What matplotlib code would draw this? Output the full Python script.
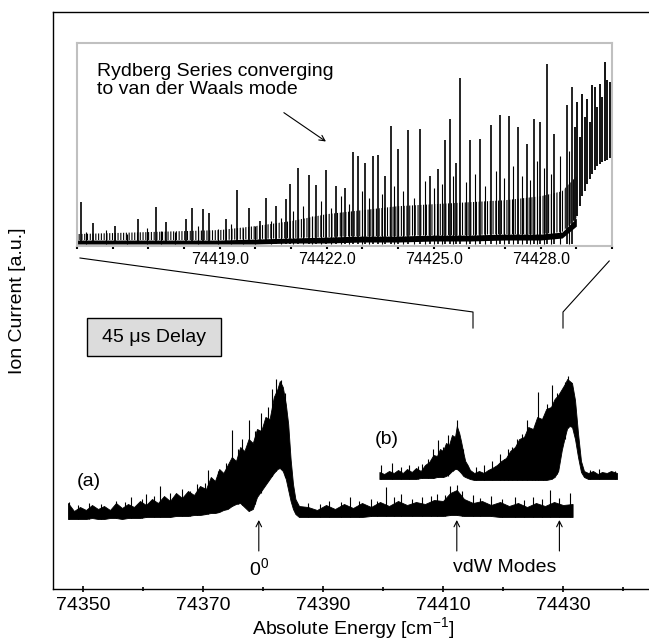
import numpy as np
import matplotlib
matplotlib.use("Agg")
from matplotlib import pyplot as plt
from matplotlib.patches import Rectangle
from matplotlib.ticker import MultipleLocator, FormatStrFormatter

plt.rcParams['font.family'] = ['Liberation Sans', 'DejaVu Sans']
plt.rcParams['mathtext.fontset'] = 'custom'
plt.rcParams['mathtext.rm'] = 'Liberation Sans'
plt.rcParams['mathtext.it'] = 'Liberation Sans'
plt.rcParams['hatch.linewidth'] = 0.8

# ---- trace (a): full scan, envelope of the dense spectrum (height above axis)
a_x = [74347.5, 74348.5, 74349.5, 74350.5, 74351.5, 74352.5, 74353.5, 74354.5,
       74355.5, 74356.5, 74357.5, 74358.5, 74359.5, 74360.5, 74361.5, 74362.5,
       74363.5, 74364.5, 74365.5, 74366.5, 74367.5, 74368.5, 74369.5, 74370.5,
       74371.3, 74372.0, 74372.7, 74373.4, 74374.1, 74374.8, 74375.5, 74376.2,
       74376.9, 74377.6, 74378.3, 74379.0, 74379.7, 74380.4, 74381.1, 74381.8,
       74382.4, 74382.8, 74383.3, 74383.8, 74384.2, 74384.6, 74385.0, 74385.4,
       74386.0, 74387.5, 74389.0, 74390.5, 74392.0, 74393.5, 74395.0, 74396.5,
       74398.0, 74399.5, 74401.0, 74402.5, 74404.0, 74405.5, 74407.0, 74408.5,
       74410.0, 74411.2, 74412.3, 74413.5, 74415.0, 74416.5, 74418.0, 74419.5,
       74421.0, 74422.5, 74424.0, 74425.5, 74427.0, 74428.5, 74430.0, 74431.6]
a_low = [70, 70, 70, 70, 71, 70, 70, 71, 71, 70, 71, 71, 71, 72, 72, 72,
         72, 72, 73, 73, 73, 74, 74, 75, 76, 76, 77, 79, 80, 83, 85, 86,
         82, 78, 80, 92, 98, 104, 110, 116, 120, 121, 118, 110, 99, 88, 80, 75,
         72, 72, 72, 72, 72, 72, 72, 72, 73, 73, 73, 73, 73, 73, 73, 73,
         73, 74, 74, 73, 73, 73, 73, 72, 72, 72, 72, 72, 72, 72, 72, 72]
a_high = [86, 78, 82, 79, 84, 80, 83, 79, 86, 81, 85, 82, 88, 84, 90, 86,
          93, 88, 96, 91, 98, 94, 103, 100, 112, 108, 120, 116, 124, 132, 128, 142,
          138, 150, 146, 160, 158, 172, 170, 192, 200, 208, 202, 185, 165, 130, 105, 90,
          83, 82, 79, 84, 80, 85, 81, 86, 82, 87, 83, 88, 84, 87, 85, 89,
          88, 96, 99, 90, 86, 88, 84, 87, 83, 86, 82, 86, 83, 87, 84, 85]
a_spike_x = [74347.6, 74349.2, 74351.0, 74353.0, 74355.5, 74357.0, 74358.0, 74359.8,
             74360.5, 74361.8, 74362.8, 74364.5, 74366.5, 74367.8, 74369.0, 74370.3,
             74370.8, 74372.5, 74373.8, 74374.9, 74375.8, 74376.5, 74377.6, 74378.6,
             74379.6, 74380.8, 74381.5, 74382.2, 74383.0, 74383.6, 74387.5, 74389.5,
             74391.0, 74393.0, 74394.5, 74396.0, 74398.0, 74399.0, 74400.5, 74401.8,
             74403.0, 74404.8, 74406.5, 74408.0, 74409.0, 74410.3, 74411.2, 74412.3,
             74413.2, 74415.0, 74416.2, 74418.0, 74419.8, 74422.0, 74423.5, 74425.0,
             74426.5, 74427.8, 74429.3, 74431.2]
a_spike_base = [70, 70, 70, 70, 71, 71, 71, 71, 72, 72, 72, 72, 73, 73, 74, 75,
                75, 77, 80, 83, 85, 84, 78, 85, 96, 108, 113, 118, 120, 112, 72, 72,
                72, 72, 72, 72, 73, 73, 73, 73, 73, 73, 73, 73, 73, 73, 74, 74,
                73, 73, 73, 73, 72, 72, 72, 72, 72, 72, 72, 72]
a_spike_h = [87, 84, 86, 85, 88, 87, 92, 90, 95, 93, 103, 96, 100, 98, 105, 106,
             119, 118, 126, 159, 140, 150, 169, 158, 176, 182, 200, 210, 209, 196, 86, 85,
             88, 87, 92, 88, 90, 88, 102, 92, 95, 90, 92, 93, 95, 94, 103, 104,
             98, 94, 91, 93, 90, 92, 89, 92, 90, 99, 91, 96]

# ---- trace (b): vdW mode region, offset upwards
b_x = [74399.4, 74400.2, 74401.0, 74401.8, 74402.5, 74403.3, 74404.0, 74404.8,
       74405.5, 74406.3, 74407.0, 74407.7, 74408.4, 74409.0, 74409.5, 74410.0,
       74410.5, 74411.0, 74411.5, 74412.0, 74412.3, 74412.7, 74413.0, 74413.4,
       74413.7, 74414.1, 74414.5, 74415.2, 74416.0, 74416.8, 74417.5, 74418.2,
       74419.0, 74419.7, 74420.5, 74421.2, 74422.0, 74422.7, 74423.5, 74424.2,
       74425.0, 74425.7, 74426.5, 74427.2, 74428.0, 74428.6, 74429.2, 74429.8,
       74430.3, 74430.7, 74431.1, 74431.5, 74432.0, 74432.5, 74433.0, 74433.5,
       74434.2, 74435.0, 74435.8, 74436.5, 74437.3, 74438.0, 74439.0]
b_low = [110, 110, 110, 110, 110, 110, 110, 110, 110, 111, 111, 111, 111, 112, 112, 112,
         113, 115, 118, 120, 120, 118, 116, 113, 112, 111, 110, 109, 109, 109, 109, 109,
         109, 109, 109, 109, 109, 109, 109, 109, 109, 109, 109, 109, 110, 112, 118, 139,
         152, 161, 163, 162, 150, 132, 117, 112, 110, 110, 110, 110, 110, 110, 110]
b_high = [117, 115, 118, 116, 119, 116, 120, 117, 121, 118, 124, 127, 134, 133, 140, 138,
          146, 144, 154, 152, 163, 156, 148, 136, 128, 124, 119, 116, 118, 116, 119, 121,
          124, 128, 131, 138, 142, 150, 152, 162, 160, 172, 170, 180, 182, 190, 194, 200,
          205, 210, 208, 206, 189, 156, 128, 118, 116, 118, 115, 117, 116, 118, 116]
b_spike_x = [74399.6, 74401.5, 74403.0, 74404.3, 74405.8, 74406.5, 74407.5, 74408.3,
             74409.2, 74410.0, 74410.9, 74411.6, 74412.3, 74413.3, 74415.5, 74416.8,
             74418.2, 74419.5, 74420.2, 74420.8, 74421.5, 74422.3, 74423.2, 74424.0,
             74424.8, 74425.3, 74425.8, 74426.7, 74427.4, 74428.2, 74429.0, 74430.3,
             74430.8, 74434.5, 74436.0, 74438.6]
b_spike_base = [110, 110, 110, 110, 110, 111, 111, 111, 112, 112, 113, 118, 120, 114, 109, 109,
                109, 109, 109, 109, 109, 109, 109, 109, 109, 109, 109, 109, 110, 110, 115, 150,
                161, 110, 110, 110]
b_spike_h = [124, 126, 122, 124, 123, 125, 130, 140, 149, 142, 154, 150, 169, 140, 122, 124,
             128, 135, 130, 140, 142, 150, 155, 169, 160, 165, 197, 172, 185, 204, 196, 207,
             213, 119, 120, 118]

# ---- inset: Rydberg series peaks
ins_peak_x = [74415.10, 74415.46, 74416.07, 74416.70, 74417.21, 74417.49, 74418.05, 74418.22,
              74418.53, 74418.71, 74419.17, 74419.49, 74419.83, 74420.12, 74420.29, 74420.59,
              74420.85, 74420.98, 74421.20, 74421.51, 74421.71, 74421.97, 74422.27, 74422.50,
              74422.73, 74422.88, 74423.08, 74423.29, 74423.44, 74423.64, 74423.80, 74424.00,
              74424.28, 74424.61, 74424.91, 74425.12, 74425.32, 74425.47, 74425.63, 74425.75,
              74426.03, 74426.29, 74426.62, 74426.85, 74427.10, 74427.36, 74427.61, 74427.81,
              74427.97, 74428.19, 74428.37, 74428.73, 74428.88]
ins_peak_h = [44, 23, 20, 27, 39, 24, 27, 38, 37, 33, 27, 56, 38, 25, 48, 40,
              47, 62, 78, 71, 61, 76, 60, 58, 94, 90, 83, 90, 91, 70, 121, 97,
              117, 118, 70, 77, 107, 128, 83, 169, 107, 108, 122, 132, 131, 120, 103, 128,
              125, 183, 113, 142, 160]
# weaker lines between the main members of the series
ins_minor_x = [74415.25, 74415.80, 74416.40, 74416.95, 74417.35, 74417.75, 74418.40, 74418.95,
               74419.33, 74419.65, 74419.98, 74420.45, 74420.72, 74421.05, 74421.35, 74421.60,
               74421.85, 74422.12, 74422.40, 74422.62, 74422.98, 74423.18, 74423.55, 74423.90,
               74424.15, 74424.45, 74424.76, 74425.02, 74425.22, 74425.55, 74425.90, 74426.16,
               74426.45, 74426.74, 74426.98, 74427.23, 74427.48, 74427.70, 74427.89, 74428.08,
               74428.28, 74428.55, 74428.80]
ins_minor_h = [14, 16, 12, 18, 15, 14, 20, 17, 22, 18, 20, 25, 28, 35, 40, 30,
               45, 38, 50, 42, 55, 48, 52, 60, 55, 48, 65, 58, 62, 70, 64, 72,
               60, 75, 68, 80, 70, 66, 85, 78, 72, 90, 95]
# last 1 cm-1 of the inset: lines sitting on a rising floor
ins_end_x = [74428.95, 74429.02, 74429.10, 74429.17, 74429.24, 74429.31, 74429.38, 74429.45,
             74429.52, 74429.59, 74429.66, 74429.73, 74429.80, 74429.87, 74429.94, 74429.99]
ins_end_base = [25, 30, 40, 50, 55, 62, 67, 72, 76, 80, 82, 84, 85, 86, 88, 88]
ins_end_top = [120, 145, 110, 153, 130, 148, 125, 162, 160, 140, 163, 150, 185, 167, 165, 170]
# noise floor under the series
floor_x = [74415.0, 74417.0, 74419.0, 74420.0, 74421.0, 74422.0, 74423.0, 74424.0,
           74425.0, 74426.0, 74427.0, 74428.0, 74428.6, 74429.0]
floor_low = [2, 2, 2, 2, 3, 3, 4, 4, 5, 5, 6, 6, 8, 20]
floor_core = [6, 6, 6, 7, 8, 9, 10, 10, 11, 11, 12, 12, 14, 28]
floor_high = [12, 14, 16, 20, 25, 32, 36, 40, 42, 44, 46, 50, 55, 70]

main_ticks = [74350, 74370, 74390, 74410, 74430]
main_minor = [74360, 74380, 74400, 74420, 74440]
inset_ticks = [74419, 74422, 74425, 74428]
arrow_x = [74379.3, 74412.3, 74429.4]

# ---- figure
fig = plt.figure(figsize=(6.49, 6.41), dpi=100)
ax = fig.add_axes([53 / 649, 52 / 641, 600 / 649, 577 / 641])
ax.set_xlim(74345, 74445)
ax.set_ylim(0, 577)

ax.fill_between(a_x, a_low, a_high, color='black', lw=0.6)
ax.vlines(a_spike_x, a_spike_base, a_spike_h, color='black', lw=0.8)
ax.fill_between(b_x, b_low, b_high, color='black', lw=0.6)
ax.vlines(b_spike_x, b_spike_base, b_spike_h, color='black', lw=0.8)

for s in ['top', 'left', 'bottom']:
    ax.spines[s].set_linewidth(1.0)
ax.spines['right'].set_visible(False)
ax.set_yticks([])
ax.set_xticks(main_ticks)
ax.set_xticks(main_minor, minor=True)
ax.tick_params(axis='x', which='major', direction='inout', length=5, width=1.2,
               labelsize=14, pad=3)
ax.tick_params(axis='x', which='minor', direction='inout', length=3, width=1.2)
ax.set_xlabel('Absolute Energy [cm$^{-1}$]', fontsize=14, labelpad=1)

fig.text(18 / 649, 1 - 301 / 641, 'Ion Current [a.u.]', rotation=90,
         ha='center', va='center', fontsize=14)

# delay box
ax.add_patch(Rectangle((74350.7, 233), 22.3, 38, facecolor='#dcdcdc',
                       edgecolor='black', lw=1.0))
ax.text(74361.8, 252, '45 \u03bcs Delay', ha='center', va='center', fontsize=14)
ax.text(74351.0, 108, '(a)', ha='center', va='center', fontsize=14)
ax.text(74400.7, 150, '(b)', ha='center', va='center', fontsize=14)

# mode markers
for xa in arrow_x:
    ax.annotate('', xy=(xa, 69), xytext=(xa, 38),
                arrowprops=dict(arrowstyle='->', lw=0.8, color='black',
                                shrinkA=0, shrinkB=0))
ax.text(74379.3, 21, '0$^{0}$', ha='center', va='center', fontsize=14)
ax.text(74420.3, 22, 'vdW Modes', ha='center', va='center', fontsize=14)

# zoom connector lines
ax.plot([74349.5, 74415.0, 74415.0], [331, 277, 261], color='black', lw=0.8,
        clip_on=False)
ax.plot([74437.7, 74430.0, 74430.0], [328, 277, 261], color='black', lw=0.8,
        clip_on=False)

# ---- inset
ins = fig.add_axes([77 / 649, 1 - 246 / 641, 535 / 649, 203 / 641])
ins.set_xlim(74415, 74430)
ins.set_ylim(0, 204)

ins.fill_between(floor_x, floor_core, floor_high, facecolor='none',
                 edgecolor='black', hatch='||||||', lw=0)
ins.fill_between(floor_x, floor_low, floor_core, color='black', lw=0)
ins.vlines(ins_minor_x, 2, ins_minor_h, color='black', lw=0.8)
ins.vlines(ins_peak_x, 2, ins_peak_h, color='black', lw=1.2)
ins.vlines(ins_end_x, ins_end_base, ins_end_top, color='black', lw=1.3)

for s in ins.spines.values():
    s.set_color('#c0c0c0')
    s.set_linewidth(1.5)
ins.set_yticks([])
ins.set_xticks(inset_ticks)
ins.xaxis.set_minor_locator(MultipleLocator(1))
ins.xaxis.set_major_formatter(FormatStrFormatter('%.1f'))
ins.tick_params(axis='x', which='both', direction='out', length=2, width=1.5,
                color='black', labelsize=11.5, pad=2)

ins.text(74415.56, 184, 'Rydberg Series converging\nto van der Waals mode',
         ha='left', va='top', fontsize=14, linespacing=1.05)
ins.annotate('', xy=(74421.98, 105), xytext=(74420.80, 134),
             arrowprops=dict(arrowstyle='->', lw=0.8, color='black',
                             shrinkA=0, shrinkB=0))

fig.savefig('out.png', dpi=100)
